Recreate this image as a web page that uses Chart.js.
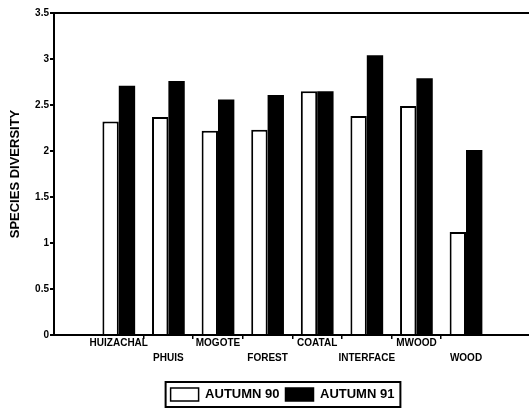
<!DOCTYPE html>
<html>
<head>
<meta charset="utf-8">
<script src="https://cdn.jsdelivr.net/npm/chart.js@4"></script>
<style>
  html, body { margin: 0; padding: 0; background: #fff; }
  #wrap { width: 529px; height: 411px; position: relative; }
</style>
</head>
<body>
<div id="wrap"><canvas id="c"></canvas></div>
<script>
const categories = ['HUIZACHAL', 'PHUIS', 'MOGOTE', 'FOREST', 'COATAL', 'INTERFACE', 'MWOOD', 'WOOD'];
const autumn90 = [2.32, 2.37, 2.22, 2.23, 2.65, 2.38, 2.49, 1.12];
const autumn91 = [2.71, 2.76, 2.56, 2.61, 2.65, 3.04, 2.79, 2.01];
const yTicks = [0, 0.5, 1, 1.5, 2, 2.5, 3, 3.5];
const seriesNames = ['AUTUMN 90', 'AUTUMN 91'];

const FONT = "'Liberation Sans', Arial, sans-serif";
const toPoints = arr => arr.map((v, i) => ({ x: i + 1, y: v }));

// shift the legend block a little to the right (layout only)
const legendShift = {
  id: 'legendShift',
  afterLayout(chart) {
    const lg = chart.legend;
    if (lg) { lg.left += 36; }
  }
};

const legendBorder = {
  id: 'legendBorder',
  afterDraw(chart) {
    const hb = chart.legend && chart.legend.legendHitBoxes;
    if (!hb || !hb.length) return;
    const ctx = chart.ctx;
    const l = Math.min(...hb.map(b => b.left)) - 5;
    const r = Math.max(...hb.map(b => b.left + b.width)) + 6;
    const t = Math.min(...hb.map(b => b.top)) - 6;
    const bo = Math.max(...hb.map(b => b.top + b.height)) + 6;
    ctx.save();
    ctx.strokeStyle = '#000';
    ctx.lineWidth = 2;
    ctx.strokeRect(l, t, r - l, bo - t);
    ctx.restore();
  }
};

new Chart(document.getElementById('c'), {
  type: 'bar',
  data: {
    datasets: [
      {
        label: seriesNames[0],
        data: toPoints(autumn90),
        backgroundColor: '#fff',
        borderColor: '#000',
        borderWidth: 2,
        borderSkipped: 'bottom'
      },
      {
        label: seriesNames[1],
        data: toPoints(autumn91),
        backgroundColor: '#000',
        borderColor: '#000',
        borderWidth: 0
      }
    ]
  },
  options: {
    responsive: true,
    maintainAspectRatio: false,
    animation: false,
    categoryPercentage: 0.66,
    barPercentage: 1,
    layout: { padding: { top: 13, right: 0, left: 0, bottom: 0 } },
    plugins: {
      tooltip: { enabled: false },
      legend: {
        position: 'bottom',
        labels: {
          color: '#000',
          font: { family: FONT, size: 13, weight: 'bold' },
          boxWidth: 28,
          boxHeight: 13,
          padding: 6,
          generateLabels(chart) {
            return chart.data.datasets.map((ds, i) => ({
              text: ds.label,
              fillStyle: ds.backgroundColor,
              strokeStyle: '#000',
              lineWidth: 1.5,
              fontColor: '#000',
              datasetIndex: i,
              hidden: false
            }));
          }
        }
      }
    },
    scales: {
      x: {
        type: 'linear',
        min: -0.306,
        max: 9.27,
        offset: false,
        afterBuildTicks(scale) {
          scale.ticks = categories.map((c, i) => ({ value: i + 1 }));
        },
        afterFit(scale) { scale.height = 47; },
        border: { display: true, color: '#000', width: 2 },
        grid: {
          offset: true,
          drawOnChartArea: false,
          drawTicks: true,
          tickLength: 4,
          color: ctx => (ctx.index === undefined || ctx.index === 0) ? 'rgba(0,0,0,0)' : '#000',
          lineWidth: 1.5
        },
        ticks: {
          color: '#000',
          autoSkip: false,
          maxRotation: 0,
          minRotation: 0,
          padding: -3,
          font: { family: FONT, size: 10, weight: 'bold', lineHeight: 1.5 },
          callback(value, index) {
            const name = categories[index];
            return index % 2 === 0 ? [name] : ['', name];
          }
        }
      },
      y: {
        min: 0,
        max: 3.5,
        afterBuildTicks(scale) {
          scale.ticks = yTicks.map(v => ({ value: v }));
        },
        afterFit(scale) { scale.width = 54; },
        border: { display: true, color: '#000', width: 2 },
        grid: {
          drawOnChartArea: true,
          drawTicks: true,
          tickLength: 4,
          color: ctx => (ctx.tick && ctx.tick.value === 3.5) ? '#000' : 'rgba(0,0,0,0)',
          tickColor: '#000',
          lineWidth: 2
        },
        ticks: {
          color: '#000',
          padding: 1,
          font: { family: FONT, size: 10, weight: 'bold' },
          callback: v => String(v)
        },
        title: {
          display: true,
          text: 'SPECIES DIVERSITY',
          color: '#000',
          font: { family: FONT, size: 13, weight: 'bold' },
          padding: { top: 8, bottom: 0 }
        }
      }
    }
  },
  plugins: [legendShift, legendBorder]
});
</script>
</body>
</html>
